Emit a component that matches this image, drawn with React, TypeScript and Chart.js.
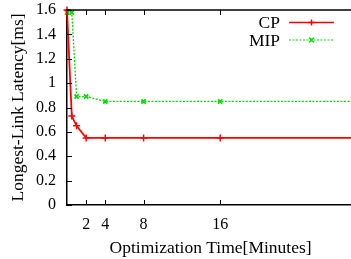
import React, { useEffect, useRef } from "react";
import { Chart, registerables } from "chart.js";

Chart.register(...registerables);

const xValues = [0, 0.5, 1, 2, 4, 8, 16, 32];
const cpValues = [1.6, 0.73, 0.65, 0.55, 0.55, 0.55, 0.55, 0.55];
const mipValues = [1.58, 1.58, 0.89, 0.89, 0.85, 0.85, 0.85, 0.85];
const xTickValues = [2, 4, 8, 16];
const seriesNames = ["CP", "MIP"];

const FONT = "'Liberation Serif', 'Times New Roman', serif";

const boxPlugin = {
  id: "boxPlugin",
  afterDraw(chart: any) {
    const { ctx, chartArea } = chart;
    const { left, right, top, bottom } = chartArea;
    const xs = chart.scales.x;
    const ys = chart.scales.y;
    ctx.save();
    ctx.strokeStyle = "#000";
    ctx.lineWidth = 1.5;
    ctx.beginPath();
    ctx.moveTo(left - 0.75, top);
    ctx.lineTo(right + 10, top);
    ctx.stroke();
    ctx.lineWidth = 1;
    ctx.beginPath();
    ys.ticks.forEach((t: any) => {
      const y = Math.round(ys.getPixelForValue(t.value)) + 0.5;
      ctx.moveTo(left, y);
      ctx.lineTo(left + 5, y);
    });
    xs.ticks.forEach((t: any) => {
      const x = Math.round(xs.getPixelForValue(t.value)) + 0.5;
      ctx.moveTo(x, bottom);
      ctx.lineTo(x, bottom - 5);
      ctx.moveTo(x, top);
      ctx.lineTo(x, top + 5);
    });
    ctx.stroke();

    // legend
    ctx.font = `17.5px ${FONT}`;
    ctx.fillStyle = "#000";
    ctx.textAlign = "right";
    ctx.textBaseline = "middle";
    const rows = [
      { name: seriesNames[0], y: 22.5, color: "#ff0000", dash: [] as number[], width: 1.5, style: "cross" },
      { name: seriesNames[1], y: 40, color: "#00e000", dash: [2, 1.5], width: 1.2, style: "crossRot" },
    ];
    rows.forEach((r) => {
      ctx.fillText(r.name, 280, r.y + 1);
      ctx.strokeStyle = r.color;
      ctx.lineWidth = r.width;
      ctx.setLineDash(r.dash);
      ctx.beginPath();
      ctx.moveTo(289, r.y);
      ctx.lineTo(334, r.y);
      ctx.stroke();
      ctx.setLineDash([]);
      ctx.lineWidth = 1.5;
      ctx.beginPath();
      const m = 311.5;
      if (r.style === "cross") {
        ctx.moveTo(m - 3, r.y);
        ctx.lineTo(m + 3, r.y);
        ctx.moveTo(m, r.y - 3);
        ctx.lineTo(m, r.y + 3);
      } else {
        ctx.moveTo(m - 2.5, r.y - 2.5);
        ctx.lineTo(m + 2.5, r.y + 2.5);
        ctx.moveTo(m - 2.5, r.y + 2.5);
        ctx.lineTo(m + 2.5, r.y - 2.5);
      }
      ctx.stroke();
    });
    ctx.restore();
  },
};

export default function App() {
  const ref = useRef<HTMLCanvasElement>(null);
  useEffect(() => {
    if (!ref.current) return;
    const chart = new Chart(ref.current, {
      type: "line",
      data: {
        datasets: [
          {
            label: seriesNames[0],
            data: xValues.map((x, i) => ({ x, y: cpValues[i] })),
            borderColor: "#ff0000",
            backgroundColor: "#ff0000",
            borderWidth: 1.8,
            pointStyle: "cross",
            pointRadius: 3.5,
            pointBorderWidth: 1.5,
            tension: 0,
            clip: { left: 6, top: 6, right: 0, bottom: 6 },
          },
          {
            label: seriesNames[1],
            data: xValues.map((x, i) => ({ x, y: mipValues[i] })),
            borderColor: "#00e000",
            backgroundColor: "#00e000",
            borderWidth: 1.3,
            borderDash: [2, 1.5],
            pointStyle: "crossRot",
            pointRadius: 3,
            pointBorderWidth: 1.8,
            tension: 0,
            clip: { left: 6, top: 6, right: 0, bottom: 6 },
          },
        ],
      },
      options: {
        responsive: false,
        animation: false,
        layout: { padding: { top: 10, right: 5, left: 0, bottom: 0 } },
        plugins: { legend: { display: false }, tooltip: { enabled: false } },
        scales: {
          x: {
            type: "linear",
            min: 0,
            max: 30,
            afterBuildTicks: (s: any) => {
              s.ticks = xTickValues.map((v) => ({ value: v }));
            },
            afterFit: (s: any) => {
              s.height = 54;
              s.paddingLeft = 0;
              s.paddingRight = 0;
            },
            grid: { display: false, drawTicks: false },
            border: { display: true, color: "#000", width: 1.5 },
            ticks: {
              color: "#000",
              font: { family: FONT, size: 16 },
              padding: 10,
              maxRotation: 0,
            },
            title: {
              display: true,
              text: "Optimization Time[Minutes]",
              color: "#000",
              font: { family: FONT, size: 17.5 },
              padding: { top: 0, bottom: 0 },
            },
          },
          y: {
            min: 0,
            max: 1.6,
            afterFit: (s: any) => {
              s.width = 67;
              s.paddingTop = 0;
              s.paddingBottom = 0;
            },
            grid: { display: false, drawTicks: false },
            border: { display: true, color: "#000", width: 1.5 },
            ticks: {
              stepSize: 0.2,
              color: "#000",
              font: { family: FONT, size: 16 },
              padding: 11,
              callback: (v: any) => String(Number(Number(v).toFixed(1))),
            },
            title: {
              display: true,
              text: "Longest-Link Latency[ms]",
              color: "#000",
              font: { family: FONT, size: 17.5 },
              padding: { top: 8, bottom: 0 },
            },
          },
        },
      },
      plugins: [boxPlugin],
    } as any);
    return () => chart.destroy();
  }, []);
  return (
    <div style={{ position: "fixed", left: 0, top: 0, width: 351, height: 259, overflow: "hidden", background: "#fff" }}>
      <canvas ref={ref} width={360} height={259} style={{ width: 360, height: 259, display: "block" }} />
    </div>
  );
}
